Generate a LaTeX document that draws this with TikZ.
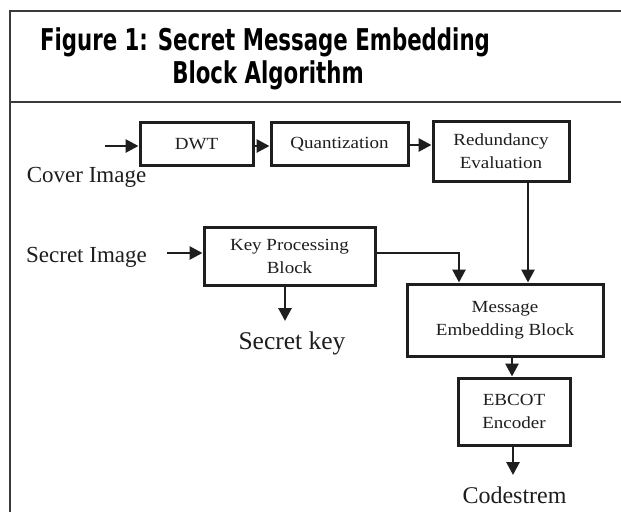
\documentclass[tikz,border=0pt]{standalone}
\usepackage{fontspec}
\usetikzlibrary{arrows.meta,calc}
\newfontfamily\titlefont[FakeStretch=0.71]{DejaVu Sans}
\newfontfamily\boxfont[FakeStretch=1.12]{Liberation Serif}
\newfontfamily\labfont{Liberation Serif}
\definecolor{ink}{HTML}{1E1E1E}
\definecolor{frame}{HTML}{3A3A3A}
\begin{document}
\begin{tikzpicture}[x=1pt,y=-1pt,
  blk/.style={draw=ink, line width=3pt, inner sep=0pt, align=center, text=ink,
    font=\boxfont\fontsize{17}{23}\selectfont},
  lab/.style={inner sep=0pt, text=ink},
  arr/.style={draw=ink, line width=2.8pt, -{Triangle[length=13pt,width=13pt]}},
  ttl/.style={inner sep=0pt, anchor=base, text=black, font=\titlefont\bfseries\fontsize{30}{34}\selectfont}]
\useasboundingbox (0,0) rectangle (621,512);
\fill[white] (0,0) rectangle (621,512);
% frame
\draw[frame, line width=2pt] (621,11) -- (9.5,11) -- (9.5,512);
\draw[frame, line width=2pt] (9.5,102) -- (621,102);
% title
\node[ttl] (t1) at (265,50) {Figure 1: Secret Message Embedding};
\node[ttl] (t2) at (268,83) {Block Algorithm};
% boxes
\node[blk, minimum width=113pt, minimum height=43pt] (dwt) at (196.5,144) {DWT};
\node[blk, minimum width=137pt, minimum height=43pt] (quant) at (339.5,144) {Quantization};
\node[blk, minimum width=136pt, minimum height=60pt] (red) at (501,151) {Redundancy\\Evaluation};
\node[blk, minimum width=171pt, minimum height=58pt] (key) at (289.5,256) {Key Processing\\Block};
\node[blk, minimum width=196pt, minimum height=72pt] (msg) at (505,320) {Message\\Embedding Block};
\node[blk, minimum width=112pt, minimum height=67pt] (ebc) at (514,411.5) {EBCOT\\Encoder};
% labels
\node[lab, font=\labfont\fontsize{23}{26}\selectfont] (cover) at (86.5,177) {Cover Image};
\node[lab, font=\labfont\fontsize{23}{26}\selectfont] (secimg) at (86.5,257) {Secret Image};
\node[lab, font=\labfont\fontsize{25.5}{28}\selectfont] (skey) at (292,343) {Secret key};
\node[lab, font=\labfont\fontsize{24}{27}\selectfont] (code) at (514.5,495) {Codestrem};
% coordinates
\coordinate (cin) at (105,146);
\coordinate (sin) at (167,253);
\coordinate (kout) at (285,321);
\coordinate (cout) at (513,475);
% connectors
\draw[arr] (cin) -- (cin -| dwt.west);
\draw[arr] (dwt.east |- cin) -- (cin -| quant.west);
\draw[arr] ($(quant.east)+(0,1)$) -- ($(quant.east -| red.west)+(0,1)$);
\draw[arr] (red.south -| 528,0) -- (msg.north -| 528,0);
\draw[arr] (key.east |- sin) -| (msg.north -| 459,0);
\draw[arr] (sin) -- (sin -| key.west);
\draw[arr] (key.south -| kout) -- (kout);
\draw[arr] (msg.south -| 512,0) -- (ebc.north -| 512,0);
\draw[arr] (ebc.south -| cout) -- (cout);
\end{tikzpicture}
\end{document}
